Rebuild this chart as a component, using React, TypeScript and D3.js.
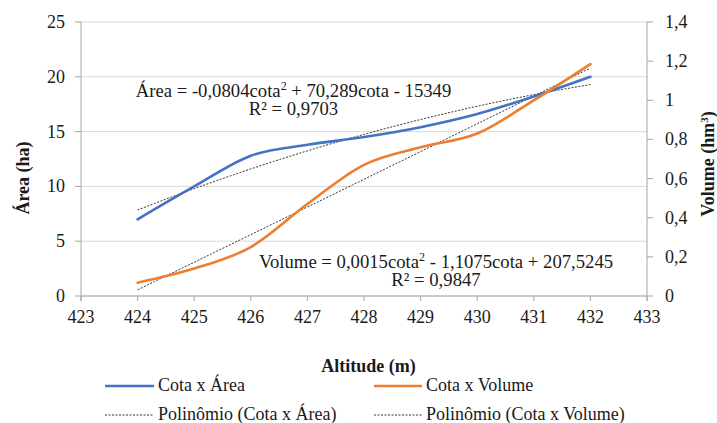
import React, { useEffect } from "react";
import * as d3 from "d3";

const cotas = [424, 425, 426, 427, 428, 429, 430, 431, 432];
const areaHa = [7.0, 10.0, 12.8, 13.8, 14.5, 15.4, 16.6, 18.2, 20.0];
const volumeHm3 = [0.068, 0.14, 0.25, 0.47, 0.67, 0.76, 0.83, 1.0, 1.185];
const xTicks = [423, 424, 425, 426, 427, 428, 429, 430, 431, 432, 433];
const areaTicks = [0, 5, 10, 15, 20, 25];
const volTicks = [0, 0.2, 0.4, 0.6, 0.8, 1.0, 1.2, 1.4];

const W = 717, H = 423;
const L = 81, R = 647, T = 22, B = 296;

function quadFit(xs: number[], ys: number[]) {
  const mx = d3.mean(xs)!;
  const u = xs.map((x) => x - mx);
  const n = xs.length;
  let s1 = 0, s2 = 0, s3 = 0, s4 = 0, sy = 0, sxy = 0, sx2y = 0;
  for (let i = 0; i < n; i++) {
    const a = u[i], y = ys[i];
    s1 += a; s2 += a * a; s3 += a * a * a; s4 += a * a * a * a;
    sy += y; sxy += a * y; sx2y += a * a * y;
  }
  const M = [[n, s1, s2], [s1, s2, s3], [s2, s3, s4]];
  const v = [sy, sxy, sx2y];
  const det = (m: number[][]) =>
    m[0][0] * (m[1][1] * m[2][2] - m[1][2] * m[2][1]) -
    m[0][1] * (m[1][0] * m[2][2] - m[1][2] * m[2][0]) +
    m[0][2] * (m[1][0] * m[2][1] - m[1][1] * m[2][0]);
  const D = det(M);
  const c = [0, 1, 2].map((k) => det(M.map((row, i) => row.map((val, j) => (j === k ? v[i] : val)))) / D);
  return (x: number) => c[0] + c[1] * (x - mx) + c[2] * (x - mx) * (x - mx);
}

const ST: React.CSSProperties = { fontFamily: '"Liberation Serif"', fontSize: "18px" };
const STE: React.CSSProperties = { fontFamily: '"Liberation Serif"', fontSize: "18.7px" };
const STB: React.CSSProperties = { fontFamily: '"Liberation Serif"', fontSize: "18px", fontWeight: "bold" };

export default function App() {
  useEffect(() => {
    document.body.style.margin = "0";
  }, []);
  const x = d3.scaleLinear().domain([423, 433]).range([L, R]);
  const yA = d3.scaleLinear().domain([0, 25]).range([B, T]);
  const yV = d3.scaleLinear().domain([0, 1.4]).range([B, T]);
  const smooth = d3.curveCatmullRom.alpha(0);
  const lineA = d3.line<number>().x((_, i) => x(cotas[i])).y((d) => yA(d)).curve(smooth);
  const lineV = d3.line<number>().x((_, i) => x(cotas[i])).y((d) => yV(d)).curve(smooth);
  const fA = quadFit(cotas, areaHa);
  const fV = quadFit(cotas, volumeHm3);
  const xs = d3.range(424, 432.001, 0.1);
  const trendA = d3.line<number>().x((d) => x(d)).y((d) => yA(fA(d)))(xs);
  const trendV = d3.line<number>().x((d) => x(d)).y((d) => yV(fV(d)))(xs);
  const fmt = (v: number) => (v === 0 || v === 1 ? String(v) : v.toFixed(1).replace(".", ","));
  const axisCol = "#a6a6a6";
  const txt = "#1a1a1a";
  return (
    <svg width={W} height={H} style={{ display: "block", background: "#fff" }}>
      {areaTicks.map((t) => (
        <line key={"g" + t} x1={L} x2={R} y1={yA(t)} y2={yA(t)} stroke="#d9d9d9" strokeWidth={1} />
      ))}
      <line x1={L} x2={L} y1={T} y2={B + 5} stroke={axisCol} />
      <line x1={R} x2={R} y1={T} y2={B + 5} stroke={axisCol} />
      <line x1={L} x2={R} y1={B} y2={B} stroke={axisCol} />
      {areaTicks.map((t) => (
        <g key={"a" + t}>
          <line x1={L - 6} x2={L} y1={yA(t)} y2={yA(t)} stroke={axisCol} />
          <text x={L - 16} y={yA(t)} dy="0.33em" textAnchor="end" fill={txt} style={ST}>{t}</text>
        </g>
      ))}
      {volTicks.map((t) => (
        <g key={"v" + t}>
          <line x1={R} x2={R + 6} y1={yV(t)} y2={yV(t)} stroke={axisCol} />
          <text x={R + 18} y={yV(t)} dy="0.33em" textAnchor="start" fill={txt} style={ST}>{fmt(t)}</text>
        </g>
      ))}
      {xTicks.map((t) => (
        <g key={"x" + t}>
          <line x1={x(t)} x2={x(t)} y1={B} y2={B + 5} stroke={axisCol} />
          <text x={x(t)} y={323} textAnchor="middle" fill={txt} style={ST}>{t}</text>
        </g>
      ))}
      <path d={trendA!} fill="none" stroke="#333" strokeWidth={1} strokeDasharray="2,1.5" />
      <path d={trendV!} fill="none" stroke="#333" strokeWidth={1} strokeDasharray="2,1.5" />
      <path d={lineA(areaHa)!} fill="none" stroke="#4472c4" strokeWidth={2.6} strokeLinecap="round" />
      <path d={lineV(volumeHm3)!} fill="none" stroke="#ed7d31" strokeWidth={2.6} strokeLinecap="round" />
      <text x={293.5} y={97} textAnchor="middle" fill={txt} style={STE}>
        Área = -0,0804cota<tspan dy={-7} fontSize={12}>2</tspan><tspan dy={7}> + 70,289cota - 15349</tspan>
      </text>
      <text x={293.5} y={115} textAnchor="middle" fill={txt} style={STE}>R² = 0,9703</text>
      <text x={436} y={268} textAnchor="middle" fill={txt} style={STE}>
        Volume = 0,0015cota<tspan dy={-7} fontSize={12}>2</tspan><tspan dy={7}> - 1,1075cota + 207,5245</tspan>
      </text>
      <text x={436} y={286} textAnchor="middle" fill={txt} style={STE}>R² = 0,9847</text>
      <text transform="translate(29,178) rotate(-90)" textAnchor="middle" fill={txt} style={STB}>Área (ha)</text>
      <text transform="translate(714,164) rotate(-90)" textAnchor="middle" fill={txt} style={STB}>
        Volume (hm<tspan dy={-6} fontSize={11}>3</tspan><tspan dy={6}>)</tspan>
      </text>
      <text x={368.5} y={372} textAnchor="middle" fill={txt} style={STB}>Altitude (m)</text>
      <line x1={105} x2={154} y1={386} y2={386} stroke="#4472c4" strokeWidth={2.6} />
      <text x={158} y={391} fill={txt} style={ST}>Cota x Área</text>
      <line x1={374} x2={422} y1={386} y2={386} stroke="#ed7d31" strokeWidth={2.6} />
      <text x={426} y={391} fill={txt} style={ST}>Cota x Volume</text>
      <line x1={105} x2={154} y1={415} y2={415} stroke="#333" strokeWidth={1} strokeDasharray="2,1.5" />
      <text x={158} y={420} fill={txt} style={ST}>Polinômio (Cota x Área)</text>
      <line x1={374} x2={422} y1={415} y2={415} stroke="#333" strokeWidth={1} strokeDasharray="2,1.5" />
      <text x={426} y={420} fill={txt} style={ST}>Polinômio (Cota x Volume)</text>
    </svg>
  );
}
